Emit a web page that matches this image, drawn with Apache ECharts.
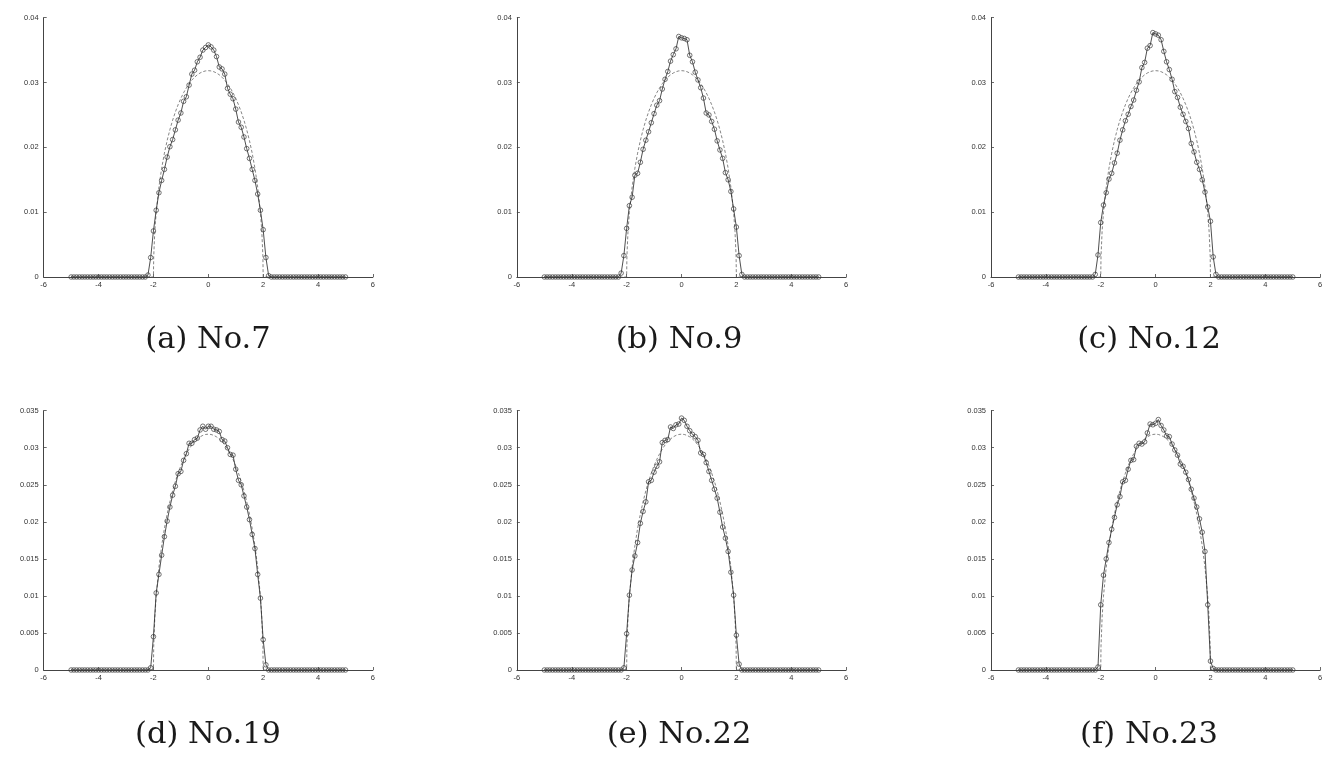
<!DOCTYPE html>
<html>
<head>
<meta charset="utf-8">
<script src="https://cdn.jsdelivr.net/npm/echarts@6.0.0/dist/echarts.min.js"></script>
<style>
html,body{margin:0;padding:0;background:#fff;}
#chart{width:1332px;height:783px;}
</style>
</head>
<body>
<div id="chart"></div>
<script>
// shared x positions (-5 .. 5, step 0.1)
const xVals = [-5,-4.9,-4.8,-4.7,-4.6,-4.5,-4.4,-4.3,-4.2,-4.1,-4,-3.9,-3.8,-3.7,-3.6,-3.5,-3.4,-3.3,-3.2,-3.1,-3,-2.9,-2.8,-2.7,-2.6,-2.5,-2.4,-2.3,
  -2.2,-2.1,-2,-1.9,-1.8,-1.7,-1.6,-1.5,-1.4,-1.3,-1.2,-1.1,-1,-0.9,-0.8,-0.7,-0.6,-0.5,-0.4,-0.3,-0.2,-0.1,0,0.1,0.2,0.3,0.4,0.5,0.6,0.7,0.8,0.9,1,1.1,1.2,1.3,1.4,1.5,1.6,1.7,1.8,1.9,2,2.1,2.2,
  2.3,2.4,2.5,2.6,2.7,2.8,2.9,3,3.1,3.2,3.3,3.4,3.5,3.6,3.7,3.8,3.9,4,4.1,4.2,4.3,4.4,4.5,4.6,4.7,4.8,4.9,5];

const no7 = [0,0,0,0,0,0,0,0,0,0,0,0,0,0,0,0,0,0,0,0,0,0,0,0,0,0,0,0,
  0.0003,0.0030,0.0071,0.0103,0.0130,0.0149,0.0166,0.0185,0.0201,0.0212,0.0227,0.0242,0.0253,0.0271,0.0278,0.0296,0.0313,0.0319,0.0332,0.0339,0.0350,0.0354,
  0.0358,
  0.0355,0.0350,0.0340,0.0324,0.0321,0.0313,0.0291,0.0282,0.0275,0.0259,0.0239,0.0231,0.0216,0.0198,0.0183,0.0166,0.0149,0.0128,0.0103,0.0073,0.0030,0.0002,
  0,0,0,0,0,0,0,0,0,0,0,0,0,0,0,0,0,0,0,0,0,0,0,0,0,0,0,0];

const no9 = [0,0,0,0,0,0,0,0,0,0,0,0,0,0,0,0,0,0,0,0,0,0,0,0,0,0,0,0,
  0.0006,0.0033,0.0075,0.0110,0.0123,0.0157,0.0160,0.0177,0.0197,0.0211,0.0224,0.0238,0.0252,0.0265,0.0272,0.0290,0.0305,0.0317,0.0333,0.0343,0.0352,0.0371,
  0.0369,
  0.0368,0.0366,0.0342,0.0332,0.0316,0.0304,0.0292,0.0276,0.0253,0.0250,0.0240,0.0228,0.0210,0.0196,0.0183,0.0161,0.0150,0.0132,0.0105,0.0077,0.0033,0.0004,
  0,0,0,0,0,0,0,0,0,0,0,0,0,0,0,0,0,0,0,0,0,0,0,0,0,0,0,0];

const no12 = [0,0,0,0,0,0,0,0,0,0,0,0,0,0,0,0,0,0,0,0,0,0,0,0,0,0,0,0,
  0.0004,0.0034,0.0084,0.0111,0.0130,0.0151,0.0160,0.0176,0.0191,0.0211,0.0227,0.0241,0.0251,0.0263,0.0273,0.0288,0.0301,0.0323,0.0331,0.0353,0.0357,0.0377,
  0.0375,
  0.0373,0.0366,0.0348,0.0332,0.0320,0.0305,0.0286,0.0277,0.0262,0.0251,0.0240,0.0229,0.0206,0.0193,0.0177,0.0166,0.0150,0.0131,0.0108,0.0086,0.0031,0.0004,
  0,0,0,0,0,0,0,0,0,0,0,0,0,0,0,0,0,0,0,0,0,0,0,0,0,0,0,0];

const no19 = [0,0,0,0,0,0,0,0,0,0,0,0,0,0,0,0,0,0,0,0,0,0,0,0,0,0,0,0,
  0.0000,0.0003,0.0045,0.0104,0.0129,0.0155,0.0180,0.0201,0.0220,0.0236,0.0248,0.0265,0.0268,0.0283,0.0292,0.0306,0.0306,0.0311,0.0313,0.0324,0.0329,0.0325,
  0.0329,
  0.0329,0.0325,0.0324,0.0322,0.0311,0.0309,0.0300,0.0291,0.0290,0.0271,0.0256,0.0250,0.0235,0.0220,0.0203,0.0183,0.0164,0.0129,0.0097,0.0041,0.0007,0.0000,
  0,0,0,0,0,0,0,0,0,0,0,0,0,0,0,0,0,0,0,0,0,0,0,0,0,0,0,0];

const no22 = [0,0,0,0,0,0,0,0,0,0,0,0,0,0,0,0,0,0,0,0,0,0,0,0,0,0,0,0,
  0.0000,0.0003,0.0049,0.0101,0.0135,0.0154,0.0172,0.0198,0.0214,0.0227,0.0254,0.0256,0.0267,0.0275,0.0281,0.0307,0.0310,0.0311,0.0328,0.0326,0.0331,0.0332,
  0.0340,
  0.0337,0.0329,0.0323,0.0318,0.0315,0.0310,0.0293,0.0291,0.0280,0.0268,0.0256,0.0244,0.0232,0.0213,0.0193,0.0178,0.0160,0.0132,0.0101,0.0047,0.0008,0.0000,
  0,0,0,0,0,0,0,0,0,0,0,0,0,0,0,0,0,0,0,0,0,0,0,0,0,0,0,0];

const no23 = [0,0,0,0,0,0,0,0,0,0,0,0,0,0,0,0,0,0,0,0,0,0,0,0,0,0,0,0,
  0.0000,0.0004,0.0088,0.0128,0.0150,0.0172,0.0190,0.0206,0.0223,0.0234,0.0254,0.0256,0.0271,0.0283,0.0284,0.0302,0.0306,0.0305,0.0308,0.0320,0.0332,0.0331,
  0.0333,
  0.0338,0.0330,0.0324,0.0316,0.0315,0.0305,0.0297,0.0290,0.0278,0.0275,0.0267,0.0257,0.0244,0.0232,0.0220,0.0204,0.0186,0.0160,0.0088,0.0012,0.0002,0.0000,
  0,0,0,0,0,0,0,0,0,0,0,0,0,0,0,0,0,0,0,0,0,0,0,0,0,0,0,0];

// dashed reference curve
const dashX = [-5,-2,-1.99,-1.95,-1.9,-1.8,-1.7,-1.6,-1.5,-1.4,-1.3,-1.2,-1.1,-1,-0.9,-0.8,-0.7,-0.6,-0.5,-0.4,-0.3,-0.2,-0.1,
  0,0.1,0.2,0.3,0.4,0.5,0.6,0.7,0.8,0.9,1,1.1,1.2,1.3,1.4,1.5,1.6,1.7,1.8,1.9,1.95,1.99,2,5];
const dashY = [0,0,0.00318,0.00707,0.00994,0.01387,0.01677,0.01910,0.02105,0.02273,0.02419,0.02546,0.02658,0.02757,0.02843,0.02917,0.02982,0.03037,0.03082,0.03119,0.03147,0.03167,0.03179,
  0.03183,0.03179,0.03167,0.03147,0.03119,0.03082,0.03037,0.02982,0.02917,0.02843,0.02757,0.02658,0.02546,0.02419,0.02273,0.02105,0.01910,0.01677,0.01387,0.00994,0.00707,0.00318,0,0];

const panels = [
  {data: no7,  label: '(a) No.7',  yMax: 0.04,  yStep: 0.01},
  {data: no9,  label: '(b) No.9',  yMax: 0.04,  yStep: 0.01},
  {data: no12, label: '(c) No.12', yMax: 0.04,  yStep: 0.01},
  {data: no19, label: '(d) No.19', yMax: 0.035, yStep: 0.005},
  {data: no22, label: '(e) No.22', yMax: 0.035, yStep: 0.005},
  {data: no23, label: '(f) No.23', yMax: 0.035, yStep: 0.005}
];

const lefts = [43.7, 516.9, 991.0];
const tops = [17.7, 410.7];
const gw = 329.2, gh = 259.3;
const capX = [208, 679, 1149];
const capY = [340, 735];

const grid = [], xAxis = [], yAxis = [], series = [], graphic = [];
panels.forEach((p, i) => {
  const col = i % 3, row = Math.floor(i / 3);
  grid.push({left: lefts[col], top: tops[row], width: gw, height: gh, containLabel: false});
  xAxis.push({
    type: 'value', gridIndex: i, min: -6, max: 6, interval: 2,
    splitLine: {show: false},
    axisLine: {show: true, onZero: false, lineStyle: {color: '#444', width: 1}},
    axisTick: {show: true, inside: true, length: 3, lineStyle: {color: '#444', width: 0.8}},
    axisLabel: {color: '#333', fontSize: 7.5, fontFamily: 'Liberation Sans', margin: 4}
  });
  yAxis.push({
    type: 'value', gridIndex: i, min: 0, max: p.yMax, interval: p.yStep,
    splitLine: {show: false},
    axisLine: {show: true, onZero: false, lineStyle: {color: '#444', width: 1}},
    axisTick: {show: true, inside: true, length: 3, lineStyle: {color: '#444', width: 0.8}},
    axisLabel: {color: '#333', fontSize: 7.5, fontFamily: 'Liberation Sans', margin: 5}
  });
  series.push({
    type: 'line', xAxisIndex: i, yAxisIndex: i,
    data: dashX.map((x, k) => [x, dashY[k]]),
    symbol: 'none', silent: true, z: 2,
    lineStyle: {color: '#666', width: 0.8, type: [3, 2]}
  });
  series.push({
    type: 'line', xAxisIndex: i, yAxisIndex: i,
    data: xVals.map((x, k) => [x, p.data[k]]),
    symbol: 'circle', symbolSize: 4.6, showAllSymbol: true, z: 3,
    itemStyle: {color: 'rgba(0,0,0,0)', borderColor: '#3a3a3a', borderWidth: 0.7},
    lineStyle: {color: '#222', width: 0.8}
  });
  graphic.push({
    type: 'text', x: capX[col], y: capY[row],
    style: {text: p.label, fill: '#1a1a1a', font: '30.5px "DejaVu Serif"', textAlign: 'center', textVerticalAlign: 'middle'}
  });
});

const chart = echarts.init(document.getElementById('chart'), null, {renderer: 'canvas'});
chart.setOption({
  animation: false,
  backgroundColor: '#fff',
  grid, xAxis, yAxis, series, graphic
});
</script>
</body>
</html>
